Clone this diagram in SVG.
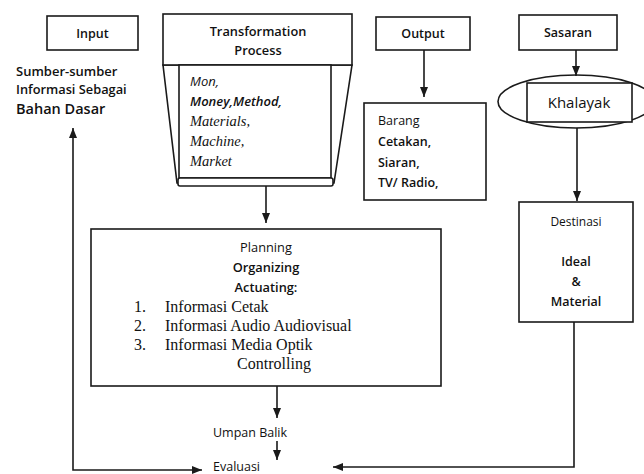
<svg xmlns="http://www.w3.org/2000/svg" width="644" height="474" viewBox="0 0 644 474">
<defs>
<style>
.box{fill:#fff;stroke:#1a1a1a;stroke-width:1.6}
.ln{fill:none;stroke:#1a1a1a;stroke-width:1.6}
.s{font-family:"Open Sans","DejaVu Sans",sans-serif;fill:#111}
.b{font-weight:600}
.sr{font-family:"Liberation Serif","Times New Roman",serif;fill:#111}
.c{text-anchor:middle}
</style>
<marker id="ah" viewBox="0 0 10 8" refX="10" refY="4" markerWidth="10" markerHeight="8" markerUnits="userSpaceOnUse" orient="auto-start-reverse">
<path d="M0,0 L10,4 L0,8 z" fill="#1a1a1a"/>
</marker>
</defs>
<rect width="644" height="474" fill="#fff"/>

<g id="input">
<rect class="box" x="47" y="16" width="91" height="34"/>
<text class="s b c" x="92.5" y="38" font-size="12.5">Input</text>
</g>

<g id="sumber">
<text class="s b" x="16" y="76" font-size="13">Sumber-sumber</text>
<text class="s b" x="16" y="94" font-size="12.8">Informasi Sebagai</text>
<text class="s b" x="16" y="114" font-size="14.5">Bahan Dasar</text>
</g>

<g id="transformation">
<path class="box" d="M163 65 L177 183 L334 183 L352 65 Z"/>
<rect class="box" x="163" y="14" width="189" height="51"/>
<rect class="box" x="179" y="65" width="152" height="113"/>
<rect class="box" x="178" y="178" width="155" height="8" rx="2"/>
<text class="s b c" x="258" y="36" font-size="12.8">Transformation</text>
<text class="s b c" x="258" y="55" font-size="12.8">Process</text>
<text class="s" x="190" y="86" font-size="13" font-style="italic">Mon,</text>
<text class="s b" x="190" y="106" font-size="13" font-style="italic">Money,Method,</text>
<text class="sr" x="190" y="126" font-size="14.5" font-style="italic">Materials,</text>
<text class="sr" x="190" y="146" font-size="14.5" font-style="italic">Machine,</text>
<text class="sr" x="190" y="166" font-size="14.5" font-style="italic">Market</text>
</g>

<g id="output">
<rect class="box" x="376" y="17" width="94" height="33"/>
<text class="s b c" x="423" y="38" font-size="12.5">Output</text>
</g>

<g id="barang">
<rect class="box" x="364" y="103" width="122" height="97"/>
<text class="s" x="378" y="125" font-size="12.5">Barang</text>
<text class="s b" x="378" y="146" font-size="12.5">Cetakan,</text>
<text class="s b" x="378" y="167" font-size="12.5">Siaran,</text>
<text class="s b" x="378" y="187" font-size="12.5">TV/ Radio,</text>
</g>

<g id="sasaran">
<rect class="box" x="519" y="15" width="98" height="35"/>
<text class="s b c" x="568" y="37" font-size="12.5">Sasaran</text>
</g>

<g id="khalayak">
<ellipse class="box" cx="576" cy="101.5" rx="78" ry="26.5"/>
<rect class="box" x="527" y="83" width="105" height="39"/>
<text class="s c" x="579" y="108" font-size="15">Khalayak</text>
</g>

<g id="destinasi">
<rect class="box" x="519" y="202" width="114" height="120"/>
<text class="s c" x="576" y="226" font-size="12">Destinasi</text>
<text class="s b c" x="576" y="266" font-size="12.5">Ideal</text>
<text class="s b c" x="576" y="286" font-size="12.5">&amp;</text>
<text class="s b c" x="576" y="306" font-size="12.5">Material</text>
</g>

<g id="planning">
<rect class="box" x="91" y="229" width="350" height="157"/>
<text class="s c" x="266" y="252" font-size="12.8">Planning</text>
<text class="s b c" x="266" y="272" font-size="12.8">Organizing</text>
<text class="s b c" x="266" y="292" font-size="12.8">Actuating:</text>
<text class="sr" x="134" y="312" font-size="16">1.</text>
<text class="sr" x="165" y="312" font-size="16">Informasi Cetak</text>
<text class="sr" x="134" y="331" font-size="16">2.</text>
<text class="sr" x="165" y="331" font-size="16">Informasi Audio  Audiovisual</text>
<text class="sr" x="134" y="350" font-size="16">3.</text>
<text class="sr" x="165" y="350" font-size="16">Informasi Media Optik</text>
<text class="sr c" x="274" y="369" font-size="16">Controlling</text>
</g>

<g id="umpan">
<text class="s" x="213" y="437" font-size="12.5">Umpan Balik</text>
</g>

<g id="evaluasi">
<text class="s" x="213" y="471" font-size="12.5">Evaluasi</text>
</g>

<g id="connectors">
<path class="ln" d="M266 186 L266 223" marker-end="url(#ah)"/>
<path class="ln" d="M424 50 L424 97" marker-end="url(#ah)"/>
<path class="ln" d="M576 50 L576 76" marker-end="url(#ah)"/>
<path class="ln" d="M577 128 L577 201" marker-end="url(#ah)"/>
<path class="ln" d="M277 386 L277 418" marker-end="url(#ah)"/>
<path class="ln" d="M277 441 L277 460" marker-end="url(#ah)"/>
<path class="ln" d="M73 128 L73 470 L202 470" marker-start="url(#ah)" marker-end="url(#ah)"/>
<path class="ln" d="M574 322 L574 467 L333 467" marker-end="url(#ah)"/>
</g>
</svg>
